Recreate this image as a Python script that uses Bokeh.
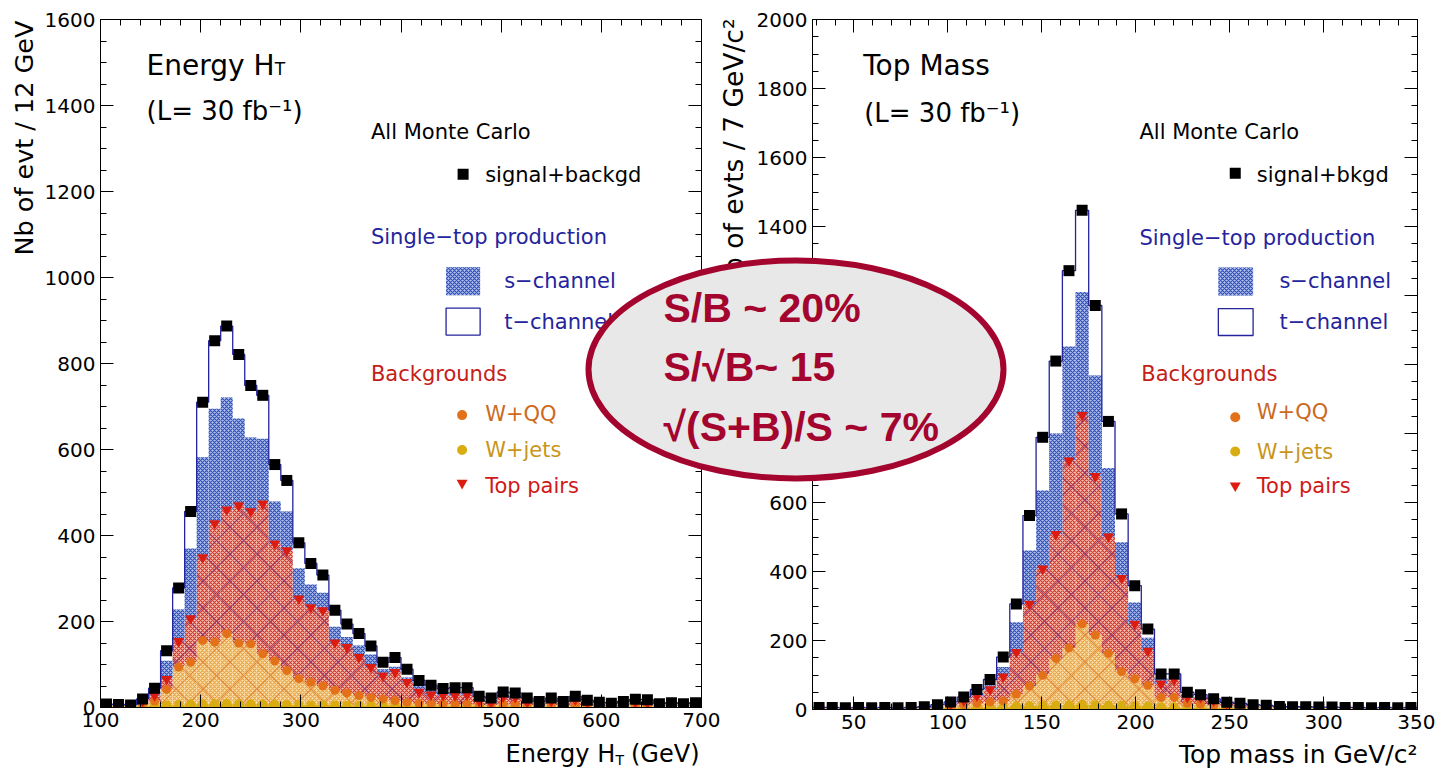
import numpy as np
from bokeh.plotting import figure
from bokeh.layouts import row
from bokeh.models import ColumnDataSource, Range1d, LinearAxis, SingleIntervalTicker, Label
from bokeh.core.properties import value
from bokeh.embed import file_html
from bokeh.resources import INLINE

# ---------------- Energy H_T : 12 GeV bins from 100 to 700 GeV ----------------
ht_start, ht_width = 100, 12
# stacked levels (each value is the running sum up to that component)
ht_sig_bkg = [8, 7, 6, 20, 45, 132, 278, 456, 710, 853, 887, 821, 749, 726, 565, 528, 383, 335, 308, 226,
              194, 172, 143, 105, 116, 89, 63, 52, 44, 46, 46, 26, 22, 36, 34, 22, 14, 22, 14, 26,
              17, 12, 10, 14, 19, 18, 9, 11, 9, 11]
ht_s_chan = [7, 6, 5, 15, 35, 109, 228, 370, 582, 695, 721, 672, 628, 625, 479, 456, 324, 286, 267, 188,
             164, 144, 123, 89, 95, 70, 55, 42, 35, 36, 37, 20, 16, 29, 27, 17, 10, 17, 10, 20,
             12, 8, 7, 10, 14, 13, 6, 8, 6, 8]
ht_top_pairs = [6, 5, 4, 14, 28, 66, 154, 207, 349, 428, 460, 470, 456, 474, 381, 365, 253, 233, 226, 151,
                140, 117, 94, 74, 82, 59, 36, 30, 28, 28, 30, 15, 10, 25, 24, 12, 8, 15, 8, 18,
                10, 6, 5, 9, 12, 10, 5, 6, 5, 6]
ht_wqq = [5, 4, 3, 8, 15, 42, 94, 105, 156, 152, 172, 150, 148, 125, 108, 86, 67, 59, 50, 40,
          34, 28, 23, 20, 16, 12, 10, 9, 8, 8, 8, 6, 6, 7, 7, 6, 5, 6, 5, 6,
          5, 4, 4, 5, 5, 5, 4, 4, 4, 4]
ht_wjets = [3, 3, 3, 4, 5, 6, 7, 8, 9, 9, 10, 9, 9, 8, 8, 7, 7, 6, 6, 6,
            5, 5, 5, 5, 5, 4, 4, 4, 4, 4, 4, 4, 3, 4, 4, 3, 3, 3, 3, 3,
            3, 3, 3, 3, 3, 3, 3, 3, 3, 3]

# ---------------- Top mass : 7 GeV/c2 bins from 28 to 350 ----------------
mt_start, mt_width = 28, 7
mt_sig_bkg = [6, 6, 5, 6, 5, 6, 5, 6, 8, 14, 22, 36, 58, 87, 152, 306, 562, 789, 1010, 1272,
              1447, 1171, 835, 567, 359, 233, 103, 103, 50, 43, 31, 21, 18, 14, 12, 9, 8, 8, 7, 7,
              6, 6, 5, 6, 5, 6]
mt_s_chan = [5, 5, 4, 5, 4, 5, 4, 5, 6, 11, 18, 30, 48, 70, 123, 253, 461, 635, 800, 1052,
             1210, 968, 700, 485, 310, 208, 90, 90, 45, 38, 27, 18, 15, 12, 10, 8, 7, 7, 6, 6,
             5, 5, 4, 5, 4, 5]
mt_top_pairs = [4, 4, 4, 4, 4, 4, 4, 4, 5, 9, 15, 26, 40, 58, 95, 166, 306, 408, 508, 721,
                853, 676, 501, 381, 248, 170, 75, 86, 36, 35, 26, 18, 14, 10, 9, 7, 6, 6, 5, 5,
                4, 4, 4, 4, 4, 4]
mt_wqq = [3, 3, 3, 3, 3, 3, 3, 3, 4, 6, 9, 14, 18, 22, 25, 45, 68, 99, 148, 178,
          248, 216, 163, 110, 89, 70, 35, 35, 18, 16, 12, 9, 8, 6, 6, 5, 4, 4, 4, 4,
          3, 3, 3, 3, 3, 3]
mt_wjets = [2, 2, 2, 2, 2, 2, 2, 2, 3, 4, 5, 6, 7, 8, 9, 10, 11, 12, 13, 14,
            15, 14, 13, 12, 11, 10, 8, 8, 6, 5, 5, 4, 4, 3, 3, 3, 3, 3, 2, 2,
            2, 2, 2, 2, 2, 2]

# callout text
callout_lines = ["S/B ~ 20%", "S/\u221aB~ 15", "\u221a(S+B)/S ~ 7%"]

# ---------------- styling ----------------
FONT = "DejaVu Sans"
NAVY = "#24249c"
CRIMSON = "#a4052e"
BLUE_FILL = dict(fill_color="#b3c1ea", hatch_pattern="diagonal_cross", hatch_color="#3050b8",
                 hatch_scale=4, hatch_weight=1.2)
RED_FILL = dict(fill_color="#f2c4b8", hatch_pattern="diagonal_cross", hatch_color="#d4372a",
                hatch_scale=4, hatch_weight=1.2)
ORANGE_FILL = dict(fill_color="#f7deaa", hatch_pattern="diagonal_cross", hatch_color="#eaa545",
                   hatch_scale=4, hatch_weight=1.2)
YELLOW = "#d9ad12"
ORANGE = "#e2711a"
RED = "#dc1c10"
LEG = "21px"


def make_panel(start, width, total, s_chan, top_pairs, wqq, wjets, y_max, x_interval, x_minor,
               frame_w, frame_h, b_left, b_right, b_top, b_bottom):
    n = len(total)
    lo = start + width * np.arange(n)
    hi = lo + width
    src = ColumnDataSource(dict(lo=lo, hi=hi, mid=lo + width / 2,
                                total=total, s_chan=s_chan, top_pairs=top_pairs,
                                wqq=wqq, wjets=wjets, zero=np.zeros(n)))
    x_end = start + width * n
    p = figure(x_range=Range1d(start, x_end), y_range=Range1d(0, y_max),
               frame_width=frame_w, frame_height=frame_h,
               min_border_left=b_left, min_border_right=b_right,
               min_border_top=b_top, min_border_bottom=b_bottom,
               output_backend="svg", toolbar_location=None)
    p.grid.visible = False
    p.outline_line_color = "black"
    p.background_fill_color = "white"
    p.border_fill_color = "white"

    # stacked components
    p.quad(left="lo", right="hi", bottom="zero", top="wjets", source=src,
           fill_color=YELLOW, line_color=None)
    p.quad(left="lo", right="hi", bottom="wjets", top="wqq", source=src, line_color=None, **ORANGE_FILL)
    p.quad(left="lo", right="hi", bottom="wjets", top="wqq", source=src, fill_color=None,
           line_color=None, hatch_pattern="diagonal_cross", hatch_color="#e07a2a",
           hatch_scale=27, hatch_weight=1.1, hatch_alpha=0.8)
    p.quad(left="lo", right="hi", bottom="wqq", top="top_pairs", source=src, line_color=None, **RED_FILL)
    p.quad(left="lo", right="hi", bottom="wqq", top="top_pairs", source=src, fill_color=None,
           line_color=None, hatch_pattern="diagonal_cross", hatch_color="#7d2a6e",
           hatch_scale=27, hatch_weight=1.1, hatch_alpha=0.75)
    p.quad(left="lo", right="hi", bottom="top_pairs", top="s_chan", source=src, line_color=None, **BLUE_FILL)

    # outline of the full stack (t-channel on top)
    xs = np.append(lo, x_end)
    ys = np.append(total, total[-1])
    p.step(xs, ys, mode="after", line_color=NAVY, line_width=1.3)

    # markers
    p.scatter("mid", "wjets", source=src, marker="circle", size=9, fill_color=YELLOW, line_color=None)
    p.scatter("mid", "wqq", source=src, marker="circle", size=9, fill_color=ORANGE, line_color=None)
    p.scatter("mid", "top_pairs", source=src, marker="inverted_triangle", size=11,
              fill_color=RED, line_color=None)
    p.scatter("mid", "total", source=src, marker="square", size=11, fill_color="black", line_color=None)

    # axes: ticks pointing inwards on all four sides
    xt = SingleIntervalTicker(interval=x_interval, num_minor_ticks=x_minor)
    yt = SingleIntervalTicker(interval=200, num_minor_ticks=4)
    p.xaxis.ticker = xt
    p.yaxis.ticker = yt
    p.add_layout(LinearAxis(ticker=xt), "above")
    p.add_layout(LinearAxis(ticker=yt), "right")
    for ax in p.axis:
        ax.major_tick_in = 13
        ax.major_tick_out = 0
        ax.minor_tick_in = 6
        ax.minor_tick_out = 0
        ax.axis_line_color = "black"
        ax.major_tick_line_color = "black"
        ax.minor_tick_line_color = "black"
        ax.major_label_text_font = FONT
        ax.major_label_text_font_size = "20px"
        ax.major_label_text_color = "black"
        ax.major_label_standoff = 5
    for ax in p.above + p.right:
        ax.major_label_text_font_size = "0px"
        ax.major_label_text_color = None
        ax.major_label_standoff = 0
    return p


def add_text(p, x, y, text, size, color="black", **kw):
    p.add_layout(Label(x=x, y=y, text=text, text_font=FONT, text_font_size=size,
                       text_color=color, text_baseline="alphabetic", **kw))


# ================= left panel: Energy H_T =================
left = make_panel(ht_start, ht_width, ht_sig_bkg, ht_s_chan, ht_top_pairs, ht_wqq, ht_wjets,
                  1600, 100, 5, 601, 688, 100, 19, 19, 63)

add_text(left, 146, 1494, "Energy H", "28px")
add_text(left, 274, 1484, "T", "17px")
add_text(left, 146, 1387, "(L= 30 fb\u207b\u00b9)", "26px")

add_text(left, 370, 1339, "All Monte Carlo", LEG)
left.scatter([462], [1240], marker="square", size=11, fill_color="black", line_color=None)
add_text(left, 484, 1238, "signal+backgd", LEG)

add_text(left, 370, 1094, "Single\u2212top production", LEG, NAVY)
left.quad(left=[445], right=[479], bottom=[959], top=[1024], line_color=None, **BLUE_FILL)
add_text(left, 503, 992, "s\u2212channel", LEG, NAVY)
left.quad(left=[445], right=[479], bottom=[866], top=[929], fill_color="white",
          line_color=NAVY, line_width=1.3)
add_text(left, 503, 897, "t\u2212channel", LEG, NAVY)

add_text(left, 370, 776, "Backgrounds", LEG, "#c42018")
left.scatter([461], [680], marker="circle", size=10, fill_color=ORANGE, line_color=None)
add_text(left, 484, 683, "W+QQ", LEG, "#cc6a1e")
left.scatter([461], [599], marker="circle", size=10, fill_color=YELLOW, line_color=None)
add_text(left, 484, 599, "W+jets", LEG, "#c8961a")
left.scatter([461], [522], marker="inverted_triangle", size=11, fill_color=RED, line_color=None)
add_text(left, 484, 515, "Top pairs", LEG, "#d01818")

# ================= right panel: Top mass =================
right = make_panel(mt_start, mt_width, mt_sig_bkg, mt_s_chan, mt_top_pairs, mt_wqq, mt_wjets,
                   2000, 50, 5, 605, 690, 92, 18, 19, 61)

add_text(right, 55, 1867, "Top Mass", "28px")
add_text(right, 55.5, 1730, "(L= 30 fb\u207b\u00b9)", "26px")

add_text(right, 202, 1675, "All Monte Carlo", LEG)
right.scatter([253], [1554], marker="square", size=11, fill_color="black", line_color=None)
add_text(right, 264.5, 1548, "signal+bkgd", LEG)

add_text(right, 202, 1368, "Single\u2212top production", LEG, NAVY)
right.quad(left=[244], right=[262.5], bottom=[1200], top=[1281], line_color=None, **BLUE_FILL)
add_text(right, 276.5, 1243, "s\u2212channel", LEG, NAVY)
right.quad(left=[244], right=[262.5], bottom=[1084], top=[1162], fill_color="white",
           line_color=NAVY, line_width=1.3)
add_text(right, 276.5, 1122, "t\u2212channel", LEG, NAVY)

add_text(right, 203, 972, "Backgrounds", LEG, "#c42018")
right.scatter([253], [847], marker="circle", size=10, fill_color=ORANGE, line_color=None)
add_text(right, 264.5, 861, "W+QQ", LEG, "#cc6a1e")
right.scatter([253], [748], marker="circle", size=10, fill_color=YELLOW, line_color=None)
add_text(right, 264.5, 745, "W+jets", LEG, "#c8961a")
right.scatter([253], [649], marker="inverted_triangle", size=11, fill_color=RED, line_color=None)
add_text(right, 264.5, 649, "Top pairs", LEG, "#d01818")

# ================= page overlay: axis titles and the callout =================
# page-sized transparent canvas in pixel units (y grows downwards)
over = figure(width=1435, height=770, x_range=Range1d(0, 1435), y_range=Range1d(770, 0),
              output_backend="svg", toolbar_location=None,
              x_axis_location=None, y_axis_location=None, min_border=0,
              outline_line_color=None, background_fill_color=None, border_fill_color=None,
              styles={"position": "absolute", "left": "0px", "top": "0px", "z-index": "5"})
over.grid.visible = False

title_font = dict(text_font=value(FONT), text_color="black")
# y-axis titles, aligned to the top of each frame
over.text(x=[23], y=[20], text=["Nb of evt / 12 GeV"], angle=np.pi / 2, text_align="right",
          text_baseline="middle", text_font_size="25.5px", **title_font)
over.text(x=[733], y=[18], text=["Nb of evts / 7 GeV/c\u00b2"], angle=np.pi / 2, text_align="right",
          text_baseline="middle", text_font_size="26.5px", **title_font)
# x-axis titles, ending at the right end of each frame
over.text(x=[505], y=[753], text=["Energy H"], text_align="left", text_baseline="middle",
          text_font_size="24px", **title_font)
over.text(x=[615], y=[759], text=["T"], text_align="left", text_baseline="middle",
          text_font_size="14px", **title_font)
over.text(x=[699], y=[753], text=["(GeV)"], text_align="right", text_baseline="middle",
          text_font_size="24px", **title_font)
over.text(x=[1417], y=[754], text=["Top mass in GeV/c\u00b2"], text_align="right",
          text_baseline="middle", text_font_size="25px", **title_font)

# callout
over.ellipse(x=[795.5], y=[369], width=[415], height=[218],
             fill_color="#e8e8e8", line_color=CRIMSON, line_width=6)
over.text(x=[663, 663, 663], y=[307, 366, 426], text=callout_lines,
          text_font=value("Liberation Sans"), text_font_style="bold", text_font_size="41px",
          text_color=CRIMSON, text_baseline="middle", text_align="left")

layout = row(left, right)
open("out.html", "w").write(file_html([layout, over], INLINE))
